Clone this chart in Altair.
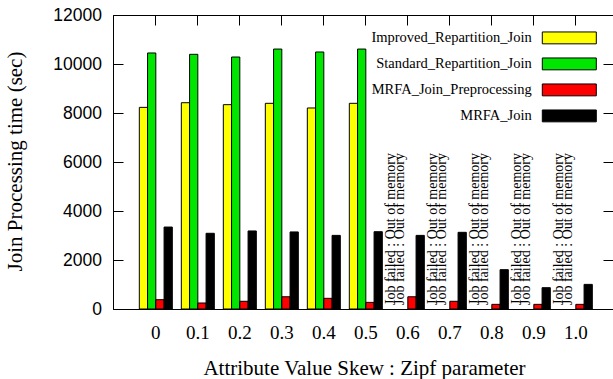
import altair as alt
import pandas as pd

categories = ["0", "0.1", "0.2", "0.3", "0.4", "0.5", "0.6", "0.7", "0.8", "0.9", "1.0"]
series_names = ["Improved_Repartition_Join", "Standard_Repartition_Join",
                "MRFA_Join_Preprocessing", "MRFA_Join"]
series_colors = ["#ffff00", "#00e600", "#ff0000", "#000000"]

improved = [8230, 8420, 8340, 8395, 8205, 8395, None, None, None, None, None]
standard = [10450, 10395, 10285, 10610, 10490, 10610, None, None, None, None, None]
preprocessing = [380, 245, 315, 500, 435, 270, 500, 315, 190, 190, 190]
mrfa = [3345, 3090, 3185, 3145, 3005, 3155, 3005, 3130, 1605, 870, 1005]

failed_categories = ["0.6", "0.7", "0.8", "0.9", "1.0"]
failed_series = ["Improved_Repartition_Join", "Standard_Repartition_Join"]
failed_note = "Job failed : Out of memory"

x_title = "Attribute Value Skew : Zipf parameter"
y_title = "Join Processing time (sec)"
y_ticks = [0, 2000, 4000, 6000, 8000, 10000, 12000]

rows = []
for name, vals in zip(series_names, [improved, standard, preprocessing, mrfa]):
    for c, v in zip(categories, vals):
        if v is not None:
            rows.append({"cat": c, "series": name, "value": v})
df = pd.DataFrame(rows)

fail_rows = [{"cat": c, "series": s, "note": failed_note}
             for c in failed_categories for s in failed_series]
fail_df = pd.DataFrame(fail_rows)

SERIF = "Liberation Serif"
SANS = "Liberation Sans"

x_scale = alt.Scale(domain=categories, paddingInner=0.2143, paddingOuter=0.5595, align=0.56)
xoff_scale = alt.Scale(domain=series_names, paddingInner=0, paddingOuter=0)
y_scale = alt.Scale(domain=[0, 12000], nice=False)
color_scale = alt.Scale(domain=series_names, range=series_colors)

bars = alt.Chart(df).mark_bar(stroke="black", strokeWidth=1, opacity=1).encode(
    x=alt.X("cat:N", sort=categories, scale=x_scale,
            axis=alt.Axis(orient="bottom", title=x_title, ticks=False, tickSize=0,
                          labelAngle=0, labelFont=SERIF, labelFontSize=19, labelColor="black",
                          labelPadding=14, domain=True, domainColor="black", domainWidth=1,
                          grid=False, bandPosition=0.5,
                          titleFont=SERIF, titleFontSize=21, titleFontWeight="normal",
                          titleColor="black", titleX=251, titleY=65,
                          titleBaseline="alphabetic", titleAlign="center")),
    xOffset=alt.XOffset("series:N", sort=series_names, scale=xoff_scale),
    y=alt.Y("value:Q", scale=y_scale,
            axis=alt.Axis(orient="left", values=y_ticks, format="d", title=y_title,
                          labelFont=SANS, labelFontSize=17.5, labelColor="black",
                          labelPadding=11.5, ticks=False, tickSize=0,
                          domain=True, domainColor="black", domainWidth=1,
                          grid=True, gridColor="black", gridOpacity=1, gridWidth=1,
                          gridDash=[5.3, 484.7, 10, 1000],
                          titleFont=SERIF, titleFontSize=21, titleFontWeight="normal",
                          titleColor="black", titleAngle=270, titleX=-91.5, titleY=146,
                          titleAlign="center", titleBaseline="alphabetic")),
    color=alt.Color("series:N", scale=color_scale,
                    legend=alt.Legend(title=None, orient="none", legendX=448.8,
                                      legendY=15.4,
                                      symbolType="M-4,-0.88L4,-0.88L4,0.88L-4,0.88Z",
                                      symbolSize=182.25, symbolStrokeColor="black",
                                      symbolStrokeWidth=1, symbolOpacity=1,
                                      labelAlign="right", labelOffset={"expr": "-45.1"},
                                      labelFont=SERIF, labelFontSize=14.5, labelColor="black",
                                      labelLimit=400, rowPadding=9,
                                      padding=0)),
)

notes = alt.Chart(fail_df).mark_text(angle=270, align="left", baseline="alphabetic", dx=4,
                                     font=SERIF, fontSize=14, color="black").encode(
    x=alt.X("cat:N", sort=categories, scale=x_scale,
            axis=alt.Axis(orient="top", labels=False, ticks=False, title=None,
                          domain=True, domainColor="black", domainWidth=1, grid=False)),
    xOffset=alt.XOffset("series:N", sort=series_names, scale=xoff_scale),
    y=alt.Y(datum=0, type="quantitative", scale=y_scale, axis=None),
    text="note:N",
)

# invisible layer that only carries the inward (mirror) tick marks
ticker = alt.Chart(df).mark_point(opacity=0).encode(
    x=alt.X("cat:N", sort=categories, scale=x_scale,
            axis=alt.Axis(orient="top", offset=-10, labels=False, ticks=True, tickSize=10,
                          tickColor="black", tickWidth=1, tickOpacity=1, domain=False,
                          grid=False, title=None, bandPosition=0.5)),
    y=alt.Y("value:Q", scale=y_scale,
            axis=alt.Axis(orient="left", offset=-10, values=y_ticks, labels=False,
                          ticks=True, tickSize=10, tickColor="black", tickWidth=1,
                          tickOpacity=1, domain=False, grid=False, title=None)),
)

chart = alt.layer(bars, notes, ticker).resolve_axis(x="independent", y="independent").properties(
    width=500, height=294,
    padding={"left": 113, "top": 15, "right": 0, "bottom": 70},
    autosize=alt.AutoSizeParams(type="none"),
    background="white",
).configure_view(stroke=None)

chart.save("out.html", embed_options={"renderer": "svg", "actions": False})
